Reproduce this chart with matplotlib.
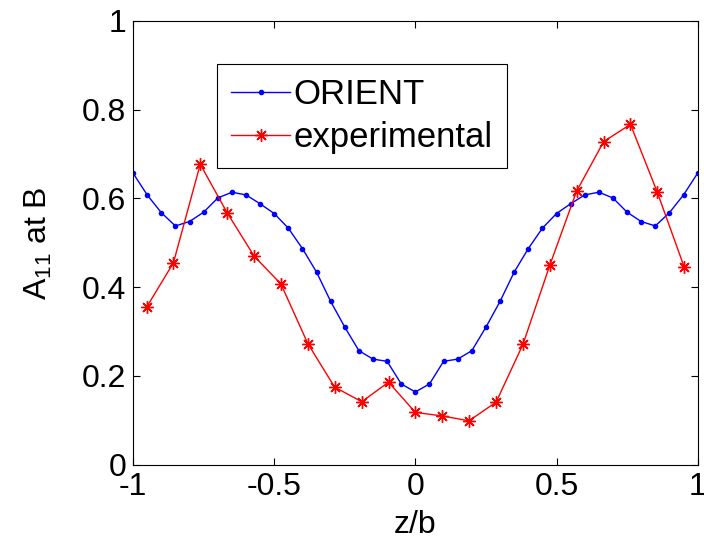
import numpy as np
import matplotlib
matplotlib.use("Agg")
import matplotlib.pyplot as plt

plt.rcParams['font.family'] = ['Liberation Sans', 'DejaVu Sans']
plt.rcParams['mathtext.default'] = 'regular'

#%% datos
z_orient = [-1.00, -0.95, -0.90, -0.85, -0.80, -0.75, -0.70, -0.65, -0.60, -0.55,
            -0.50, -0.45, -0.40, -0.35, -0.30, -0.25, -0.20, -0.15, -0.10, -0.05,
            0.00, 0.05, 0.10, 0.15, 0.20, 0.25, 0.30, 0.35, 0.40, 0.45,
            0.50, 0.55, 0.60, 0.65, 0.70, 0.75, 0.80, 0.85, 0.90, 0.95, 1.00]
a_orient = [0.657, 0.608, 0.568, 0.538, 0.548, 0.569, 0.601, 0.614, 0.608, 0.588,
            0.566, 0.533, 0.487, 0.434, 0.368, 0.310, 0.257, 0.238, 0.233, 0.182,
            0.164, 0.182, 0.233, 0.238, 0.257, 0.310, 0.368, 0.434, 0.487, 0.533,
            0.566, 0.588, 0.608, 0.614, 0.601, 0.569, 0.548, 0.538, 0.568, 0.608, 0.657]

z_exp = [-0.952, -0.857, -0.762, -0.667, -0.571, -0.476, -0.381, -0.286, -0.190, -0.095,
         0.000, 0.095, 0.190, 0.286, 0.381, 0.476, 0.571, 0.667, 0.762, 0.857, 0.952]
a_exp = [0.355, 0.455, 0.677, 0.568, 0.470, 0.407, 0.273, 0.175, 0.142, 0.186,
         0.118, 0.110, 0.099, 0.141, 0.271, 0.449, 0.616, 0.728, 0.767, 0.614, 0.446]

xticks = [-1, -0.5, 0, 0.5, 1]
xticklabels = ['-1', '-0.5', '0', '0.5', '1']
yticks = [0, 0.2, 0.4, 0.6, 0.8, 1]
yticklabels = ['0', '0.2', '0.4', '0.6', '0.8', '1']

#%% grafico
fig = plt.figure(figsize=(7.04, 5.5), dpi=100)
ax = fig.add_axes([0.189, 0.155, 0.802, 0.807])

asterisco = (8, 2, 0)  # como el '*' de matlab
ax.plot(z_orient, a_orient, '-', color='#0000ff', lw=1.0, marker='.', ms=6, label='ORIENT')
ax.plot(z_exp, a_exp, '-', color='#ff0000', lw=1.0, marker=asterisco, ms=9, mew=1.0,
        markeredgecolor='#ff0000', label='experimental')

ax.set_xlim(-1, 1)
ax.set_ylim(0, 1)
ax.set_xticks(xticks)
ax.set_xticklabels(xticklabels)
ax.set_yticks(yticks)
ax.set_yticklabels(yticklabels)
ax.tick_params(direction='in', top=True, right=True, length=5, width=0.8,
               labelsize=23, pad=5)
for s in ax.spines.values():
    s.set_linewidth(0.8)

ax.set_xlabel('z/b', fontsize=23, labelpad=6)
ax.set_ylabel('A$_{11}$ at B', fontsize=23, labelpad=20)

leg = ax.legend(loc='upper left', bbox_to_anchor=(0.149, 0.903), fontsize=25,
                frameon=True, fancybox=False, edgecolor='black', framealpha=1,
                handlelength=1.7, handletextpad=0.1, borderpad=0.4,
                labelspacing=0.3, borderaxespad=0)
leg.get_frame().set_linewidth(0.8)

fig.savefig('out.png', dpi=100)
